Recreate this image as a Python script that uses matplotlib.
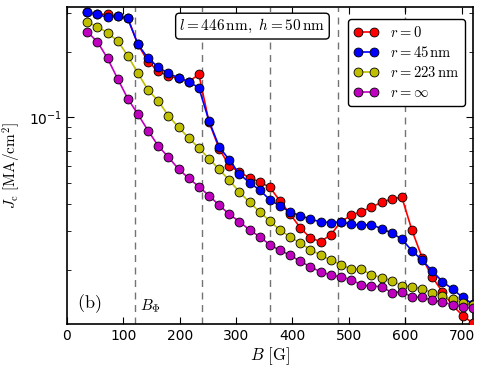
import numpy as np
import matplotlib
matplotlib.use("Agg")
import matplotlib.pyplot as plt

plt.rcParams["mathtext.fontset"] = "cm"
plt.rcParams["xtick.direction"] = "in"
plt.rcParams["ytick.direction"] = "in"
plt.rcParams["xtick.top"] = True
plt.rcParams["ytick.right"] = True

# ---- data: critical current vs field for several defect radii ----
B = np.arange(36, 721, 18)

jc_r0 = [0.303, 0.297, 0.297, 0.2915, 0.2845, 0.216, 0.180, 0.163, 0.1546, 0.151,
         0.1457, 0.1575, 0.0952, 0.0718, 0.0600, 0.0560, 0.0528, 0.0505, 0.0477, 0.0413,
         0.0359, 0.0311, 0.0279, 0.0269, 0.0289, 0.0332, 0.0355, 0.0369, 0.0387, 0.0407,
         0.0422, 0.0430, 0.0303, 0.0227, 0.0185, 0.0158, 0.0137, 0.0123, 0.01135]
jc_r45 = [0.303, 0.297, 0.2875, 0.2915, 0.2845, 0.216, 0.1865, 0.170, 0.159, 0.152,
          0.1457, 0.1367, 0.0962, 0.0733, 0.0637, 0.0549, 0.0501, 0.0464, 0.0418, 0.0392,
          0.0367, 0.0354, 0.0341, 0.0331, 0.0329, 0.0331, 0.0323, 0.0320, 0.0322, 0.0308,
          0.0295, 0.0276, 0.0244, 0.0221, 0.0197, 0.0176, 0.0163, 0.0149, 0.0139]
jc_r223 = [0.2736, 0.2604, 0.2444, 0.2239, 0.1917, 0.1591, 0.1334, 0.1188, 0.1017, 0.0900,
           0.0804, 0.0723, 0.0646, 0.0577, 0.0514, 0.0454, 0.0407, 0.0368, 0.0334, 0.0303,
           0.0283, 0.0264, 0.0247, 0.0233, 0.0221, 0.0211, 0.0201, 0.0201, 0.0189, 0.0184,
           0.0178, 0.0169, 0.0167, 0.0163, 0.0157, 0.0151, 0.0146, 0.0141, 0.0138]
jc_rinf = [0.2470, 0.2223, 0.1865, 0.1503, 0.1217, 0.1032, 0.0868, 0.0739, 0.0656, 0.0579,
           0.0525, 0.0481, 0.0437, 0.0395, 0.0359, 0.0332, 0.0304, 0.0283, 0.0260, 0.0245,
           0.0233, 0.0218, 0.0206, 0.0195, 0.0189, 0.0185, 0.0180, 0.0170, 0.0168, 0.0167,
           0.0157, 0.0158, 0.0150, 0.0149, 0.0145, 0.0142, 0.0138, 0.0135, 0.0133]

labels = [r"$r=0$", r"$r=45\,\mathrm{nm}$", r"$r=223\,\mathrm{nm}$", r"$r=\infty$"]
colors = ["#ff0000", "#0000ff", "#bfbf00", "#bf00bf"]

# matching field multiples B_phi = 120 G
B_match = [120, 240, 360, 480, 600]

fig = plt.figure(figsize=(4.85, 3.74), dpi=100)
ax = fig.add_axes([0.138, 0.134, 0.837, 0.847])

for b in B_match:
    ax.axvline(b, color="0.45", ls=(0, (5, 4)), lw=1.0, zorder=1)

for y, c, lab in zip([jc_r0, jc_r45, jc_r223, jc_rinf], colors, labels):
    ax.plot(B, y, "-o", color=c, mfc=c, mec="k", mew=0.6, ms=6.4, lw=1.2,
            label=lab, zorder=3)

ax.set_yscale("log")
ax.set_xlim(0, 720)
ax.set_ylim(0.01127, 0.3206)
ax.set_xticks(range(0, 701, 100))
ax.tick_params(labelsize=10)
ax.tick_params(which="major", length=5)
ax.tick_params(which="minor", length=3)

ax.set_xlabel(r"$B\ [\mathrm{G}]$", fontsize=12, labelpad=2)
ax.set_ylabel(r"$J_{\rm c}\ [\mathrm{MA/cm}^2]$", fontsize=11, labelpad=4)

leg = ax.legend(loc="upper right", numpoints=2, fontsize=10.5, fancybox=True,
                framealpha=1, edgecolor="k", borderpad=0.4, labelspacing=0.35,
                handlelength=1.7, bbox_to_anchor=(0.998, 0.985))
leg.get_frame().set_linewidth(1.0)

ax.text(0.457, 0.94, r"$l=446\,\mathrm{nm},\ h=50\,\mathrm{nm}$", transform=ax.transAxes,
        ha="center", va="center", fontsize=11,
        bbox=dict(boxstyle="round,pad=0.25", fc="white", ec="k", lw=1.0))

ax.text(0.025, 0.05, r"$\mathrm{(b)}$", transform=ax.transAxes, fontsize=13)
ax.text(0.18, 0.045, r"$B_\Phi$", transform=ax.transAxes, fontsize=11)

for s in ax.spines.values():
    s.set_linewidth(1.2)

plt.savefig("out.png", dpi=100)
